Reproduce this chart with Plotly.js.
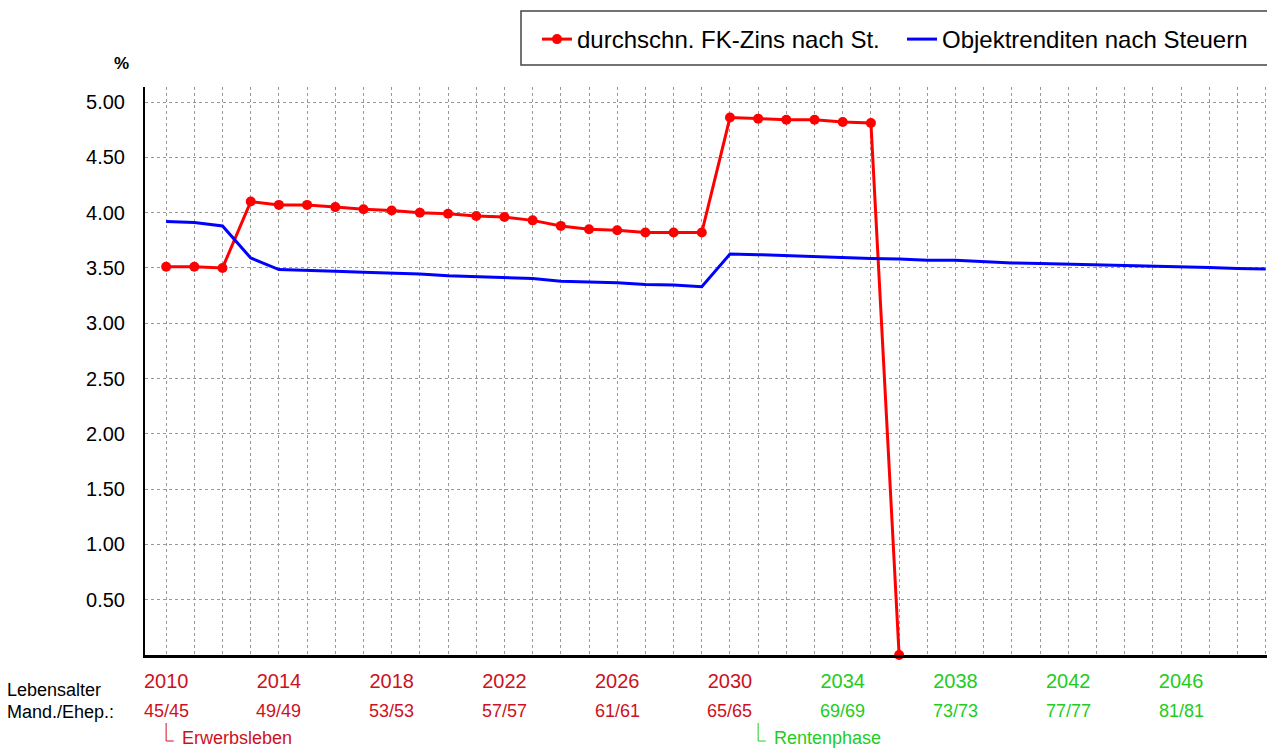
<!DOCTYPE html>
<html>
<head>
<meta charset="utf-8">
<script src="https://cdn.plot.ly/plotly-3.0.1.min.js"></script>
<style>
html,body{margin:0;padding:0;background:#fff;}
#chart{width:1267px;height:749px;}
</style>
</head>
<body>
<div id="chart"></div>
<script>
// ---- data ----
const years = [2010,2011,2012,2013,2014,2015,2016,2017,2018,2019,2020,2021,2022,2023,2024,2025,2026,2027,2028,2029,
               2030,2031,2032,2033,2034,2035,2036,2037,2038,2039,2040,2041,2042,2043,2044,2045,2046,2047,2048,2049];
const fkYears = [2010,2011,2012,2013,2014,2015,2016,2017,2018,2019,2020,2021,2022,2023,2024,2025,2026,2027,2028,2029,
                 2030,2031,2032,2033,2034,2035,2036];
const fkZins = [3.51,3.51,3.50,4.10,4.07,4.07,4.05,4.03,4.02,4.00,3.99,3.97,3.96,3.93,3.88,3.85,3.84,3.82,3.82,3.82,
                4.86,4.85,4.84,4.84,4.82,4.81,0.00];
const objRendite = [3.92,3.91,3.88,3.59,3.485,3.48,3.47,3.46,3.455,3.445,3.43,3.42,3.415,3.405,3.38,3.375,3.365,3.35,3.345,3.33,
                    3.625,3.62,3.61,3.60,3.59,3.585,3.58,3.57,3.57,3.555,3.545,3.54,3.535,3.53,3.525,3.52,3.515,3.505,3.495,3.49];
const labelYears = [2010,2014,2018,2022,2026,2030,2034,2038,2042,2046];
const ageLabels = ["45/45","49/49","53/53","57/57","61/61","65/65","69/69","73/73","77/77","81/81"];
const yTicks = [0.5,1.0,1.5,2.0,2.5,3.0,3.5,4.0,4.5,5.0];
const retireYear = 2031;
const startYear = 2010;

// ---- layout helpers ----
const W = 1267, H = 749;
const M = {l:145, r:0, t:87, b:94};
const plotH = H - M.t - M.b, plotW = W - M.l - M.r;
const py = y => (H - M.b - y) / plotH;      // pixel y -> paper y
const px = x => (x - M.l) / plotW;          // pixel x -> paper x
const RED = '#cc1122', GREEN = '#22cc22';
const colFor = yr => (yr < retireYear ? RED : GREEN);
const FONT = 'Liberation Sans, Arial, sans-serif';

const tickText = years.map(y => labelYears.includes(y)
  ? '<span style="color:' + colFor(y) + '">' + y + '</span>' : '');

const traces = [
  {x: fkYears, y: fkZins, name: 'durchschn. FK-Zins nach St.', type: 'scatter', mode: 'lines+markers',
   line: {color: '#ff0000', width: 3}, marker: {color: '#ff0000', size: 10}, cliponaxis: false},
  {x: years, y: objRendite, name: 'Objektrenditen nach Steuern', type: 'scatter', mode: 'lines',
   line: {color: '#0000ff', width: 3}}
];

const annotations = [
  {text: '<b>%</b>', xref: 'paper', yref: 'paper', x: px(121), y: py(63), xanchor: 'center', yanchor: 'middle',
   showarrow: false, font: {family: FONT, size: 17, color: '#000'}},
  {text: 'Lebensalter', xref: 'paper', yref: 'paper', x: px(5), y: py(690), xanchor: 'left', yanchor: 'middle',
   showarrow: false, font: {family: FONT, size: 18, color: '#000'}},
  {text: 'Mand./Ehep.:', xref: 'paper', yref: 'paper', x: px(5), y: py(712), xanchor: 'left', yanchor: 'middle',
   showarrow: false, font: {family: FONT, size: 18, color: '#000'}},
  {text: 'Erwerbsleben', xref: 'x', yref: 'paper', x: startYear, xshift: 14, y: py(738), xanchor: 'left', yanchor: 'middle',
   showarrow: false, font: {family: FONT, size: 18, color: RED}},
  {text: 'Rentenphase', xref: 'x', yref: 'paper', x: retireYear, xshift: 14, y: py(738), xanchor: 'left', yanchor: 'middle',
   showarrow: false, font: {family: FONT, size: 18, color: GREEN}}
];
labelYears.forEach((yr, i) => {
  annotations.push({text: ageLabels[i], xref: 'x', yref: 'paper', x: yr, y: py(711), xanchor: 'center', yanchor: 'middle',
    showarrow: false, font: {family: FONT, size: 18, color: colFor(yr)}});
});

const shapes = [
  // legend frame
  {type: 'rect', xref: 'paper', yref: 'paper', x0: px(521), x1: px(1270), y0: py(65), y1: py(11),
   line: {color: '#444', width: 1.5}, fillcolor: 'rgba(0,0,0,0)', layer: 'above'}
];
[[startYear, RED], [retireYear, GREEN]].forEach(([yr, c]) => {
  shapes.push({type: 'line', xref: 'x', yref: 'paper', x0: yr, x1: yr, y0: py(723), y1: py(741), line: {color: c, width: 1}});
  shapes.push({type: 'line', xref: 'x', yref: 'paper', x0: yr, x1: yr + 0.27, y0: py(741), y1: py(741), line: {color: c, width: 1}});
});

const layout = {
  width: W, height: H,
  margin: M,
  paper_bgcolor: '#fff', plot_bgcolor: '#fff',
  font: {family: FONT, size: 20, color: '#000'},
  showlegend: true,
  legend: {orientation: 'h', x: 1, xanchor: 'right', y: py(17), yanchor: 'top',
           borderwidth: 0, bgcolor: 'rgba(0,0,0,0)', entrywidth: 320, entrywidthmode: 'pixels',
           font: {family: FONT, size: 24, color: '#000'}},
  xaxis: {range: [2009.25, 2049.05], tickmode: 'array', tickvals: years, ticktext: tickText,
          showgrid: true, gridcolor: '#999', griddash: '3px,3px', gridwidth: 1,
          showline: true, linecolor: '#000', linewidth: 3, ticks: '', zeroline: false,
          tickfont: {family: FONT, size: 20}, ticklabelstandoff: 6, fixedrange: true},
  yaxis: {range: [0, 5.136], tickmode: 'array', tickvals: yTicks, ticktext: yTicks.map(v => v.toFixed(2)),
          showgrid: true, gridcolor: '#999', griddash: '3px,3px', gridwidth: 1,
          showline: true, linecolor: '#000', linewidth: 2, ticks: '', zeroline: false,
          tickfont: {family: FONT, size: 20}, ticklabelstandoff: 14, fixedrange: true},
  annotations: annotations,
  shapes: shapes
};

Plotly.newPlot('chart', traces, layout, {displayModeBar: false, staticPlot: true});
</script>
</body>
</html>
